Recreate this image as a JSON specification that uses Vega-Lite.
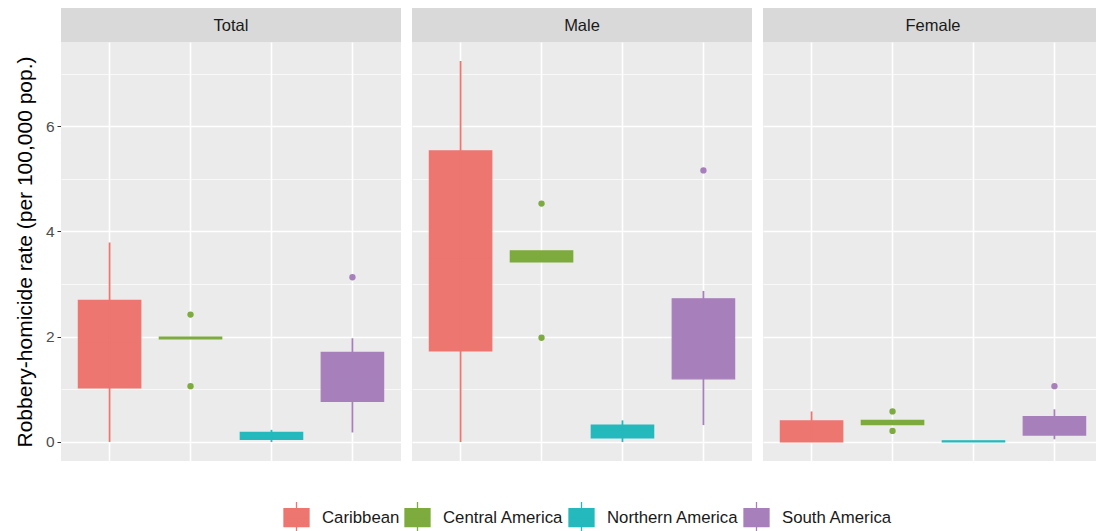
{
  "$schema": "https://vega.github.io/schema/vega-lite/v6.json",
  "padding": {"left": 14, "top": 8, "right": 0, "bottom": 0},
  "background": "#FFFFFF",
  "config": {
    "font": "Liberation Sans",
    "view": {"stroke": null}
  },
  "data": {
    "values": [
      {"kind": "box", "sex": "Total", "region": "Caribbean", "lower": 0, "q1": 1.03, "median": 1.9, "q3": 2.69, "upper": 3.79},
      {"kind": "box", "sex": "Total", "region": "Central America", "lower": 1.96, "q1": 1.96, "median": 1.97, "q3": 1.99, "upper": 1.99},
      {"kind": "box", "sex": "Total", "region": "Northern America", "lower": 0.0, "q1": 0.05, "median": 0.1, "q3": 0.18, "upper": 0.23},
      {"kind": "box", "sex": "Total", "region": "South America", "lower": 0.18, "q1": 0.77, "median": 1.2, "q3": 1.70, "upper": 1.97},
      {"kind": "box", "sex": "Male", "region": "Caribbean", "lower": 0, "q1": 1.73, "median": 3.5, "q3": 5.53, "upper": 7.24},
      {"kind": "box", "sex": "Male", "region": "Central America", "lower": 3.42, "q1": 3.42, "median": 3.5, "q3": 3.63, "upper": 3.63},
      {"kind": "box", "sex": "Male", "region": "Northern America", "lower": 0.0, "q1": 0.08, "median": 0.2, "q3": 0.32, "upper": 0.41},
      {"kind": "box", "sex": "Male", "region": "South America", "lower": 0.32, "q1": 1.20, "median": 2.0, "q3": 2.72, "upper": 2.87},
      {"kind": "box", "sex": "Female", "region": "Caribbean", "lower": 0, "q1": 0, "median": 0.2, "q3": 0.40, "upper": 0.58},
      {"kind": "box", "sex": "Female", "region": "Central America", "lower": 0.33, "q1": 0.33, "median": 0.37, "q3": 0.41, "upper": 0.41},
      {"kind": "box", "sex": "Female", "region": "Northern America", "lower": 0, "q1": 0, "median": 0.01, "q3": 0.02, "upper": 0.02},
      {"kind": "box", "sex": "Female", "region": "South America", "lower": 0.05, "q1": 0.13, "median": 0.3, "q3": 0.48, "upper": 0.62},
      {"kind": "outlier", "sex": "Total", "region": "Central America", "value": 2.42},
      {"kind": "outlier", "sex": "Total", "region": "Central America", "value": 1.06},
      {"kind": "outlier", "sex": "Total", "region": "South America", "value": 3.13},
      {"kind": "outlier", "sex": "Male", "region": "Central America", "value": 4.53},
      {"kind": "outlier", "sex": "Male", "region": "Central America", "value": 1.98},
      {"kind": "outlier", "sex": "Male", "region": "South America", "value": 5.16},
      {"kind": "outlier", "sex": "Female", "region": "Central America", "value": 0.58},
      {"kind": "outlier", "sex": "Female", "region": "Central America", "value": 0.21},
      {"kind": "outlier", "sex": "Female", "region": "South America", "value": 1.06}
    ]
  },
  "spacing": 0,
  "vconcat": [
    {
      "transform": [{"filter": "datum.kind === 'box' && datum.region === 'Caribbean'"}],
      "facet": {"column": {"field": "sex", "type": "nominal", "sort": ["Total", "Male", "Female"], "header": null}},
      "spacing": 11,
      "spec": {
        "width": 340,
        "height": 34,
        "view": {"fill": "#D9D9D9", "stroke": null},
        "mark": {"type": "text", "fontSize": 16.5, "color": "#1A1A1A", "font": "Liberation Sans", "baseline": "middle", "align": "center", "dy": 1},
        "encoding": {"text": {"field": "sex", "type": "nominal"}}
      }
    },
    {
      "facet": {"column": {"field": "sex", "type": "nominal", "sort": ["Total", "Male", "Female"], "header": null}},
      "spacing": 11,
      "spec": {
        "width": 340,
        "height": 419,
        "view": {"fill": "#EBEBEB", "stroke": null},
        "encoding": {
          "x": {
            "field": "region", "type": "nominal",
            "scale": {"paddingInner": 0.23, "paddingOuter": 0.215},
            "axis": {"title": null, "labels": false, "ticks": false, "domain": false, "grid": true, "gridColor": "#FFFFFF", "gridWidth": 1.6, "bandPosition": 0.5}
          }
        },
        "layer": [
          {
            "transform": [{"filter": "datum.kind === 'box'"}],
            "mark": {"type": "bar"},
            "encoding": {
              "y": {
                "field": "q1", "type": "quantitative",
                "scale": {"domain": [-0.362, 7.6], "nice": false, "zero": false},
                "axis": {
                  "title": "Robbery-homicide rate (per 100,000 pop.)",
                  "titleFontSize": 21, "titleFontWeight": "normal", "titleColor": "#000000", "titlePadding": 10,
                  "values": [0, 1, 2, 3, 4, 5, 6, 7],
                  "labelExpr": "datum.value % 2 === 0 ? datum.label : ''",
                  "labelFontSize": 15.5, "labelColor": "#4D4D4D", "labelPadding": 3,
                  "tickSize": 4,
                  "tickColor": {"condition": {"test": "datum.value % 2 === 0", "value": "#333333"}, "value": "transparent"},
                  "domain": false,
                  "grid": true, "gridColor": "#FFFFFF",
                  "gridWidth": {"condition": {"test": "datum.value % 2 === 0", "value": 1.6}, "value": 0.7}
                }
              },
              "y2": {"field": "q3"},
              "fill": {
                "field": "region", "type": "nominal",
                "scale": {"domain": ["Caribbean", "Central America", "Northern America", "South America"], "range": ["#ED7670", "#7DAB3D", "#24B9BD", "#A780BB"]},
                "legend": {
                  "title": null, "orient": "none", "legendX": 222, "legendY": 496, "direction": "horizontal",
                  "labelFontSize": 16.8, "labelColor": "#1A1A1A", "labelOffset": 12, "columnPadding": 2,
                  "symbolType": "M-1,-0.72H1V0.72H-1Z M-1,0H1 M0,-0.72V-1.25 M0,0.72V1.25",
                  "symbolSize": 625, "symbolStrokeColor": "#333333", "symbolStrokeWidth": 1.3, "symbolOpacity": 1,
                  "encode": {"symbols": {"update": {"stroke": {"value": "#333333"}, "strokeWidth": {"value": 1.3}}}}
                }
              }
            }
          },
          {
            "transform": [{"filter": "datum.kind === 'box'"}],
            "mark": {"type": "bar", "filled": false, "strokeWidth": 1.3},
            "encoding": {
              "y": {"field": "q1", "type": "quantitative"},
              "y2": {"field": "q3"},
              "color": {
                "field": "region", "type": "nominal", "legend": null,
                "scale": {"domain": ["Caribbean", "Central America", "Northern America", "South America"], "range": ["#ED7670", "#7DAB3D", "#24B9BD", "#A780BB"]}
              }
            }
          },
          {
            "transform": [{"filter": "datum.kind === 'box'"}],
            "mark": {"type": "rule", "strokeWidth": 1.8},
            "encoding": {
              "y": {"field": "lower", "type": "quantitative"},
              "y2": {"field": "upper"},
              "color": {"field": "region", "type": "nominal", "legend": null}
            }
          },
          {
            "transform": [{"filter": "datum.kind === 'box'"}],
            "mark": {"type": "tick", "thickness": 1.3, "size": 62},
            "encoding": {
              "y": {"field": "median", "type": "quantitative"},
              "color": {"field": "region", "type": "nominal", "legend": null}
            }
          },
          {
            "transform": [{"filter": "datum.kind === 'outlier'"}],
            "mark": {"type": "point", "filled": true, "size": 40, "opacity": 1},
            "encoding": {
              "y": {"field": "value", "type": "quantitative"},
              "color": {"field": "region", "type": "nominal", "legend": null}
            }
          }
        ]
      }
    }
  ]
}
